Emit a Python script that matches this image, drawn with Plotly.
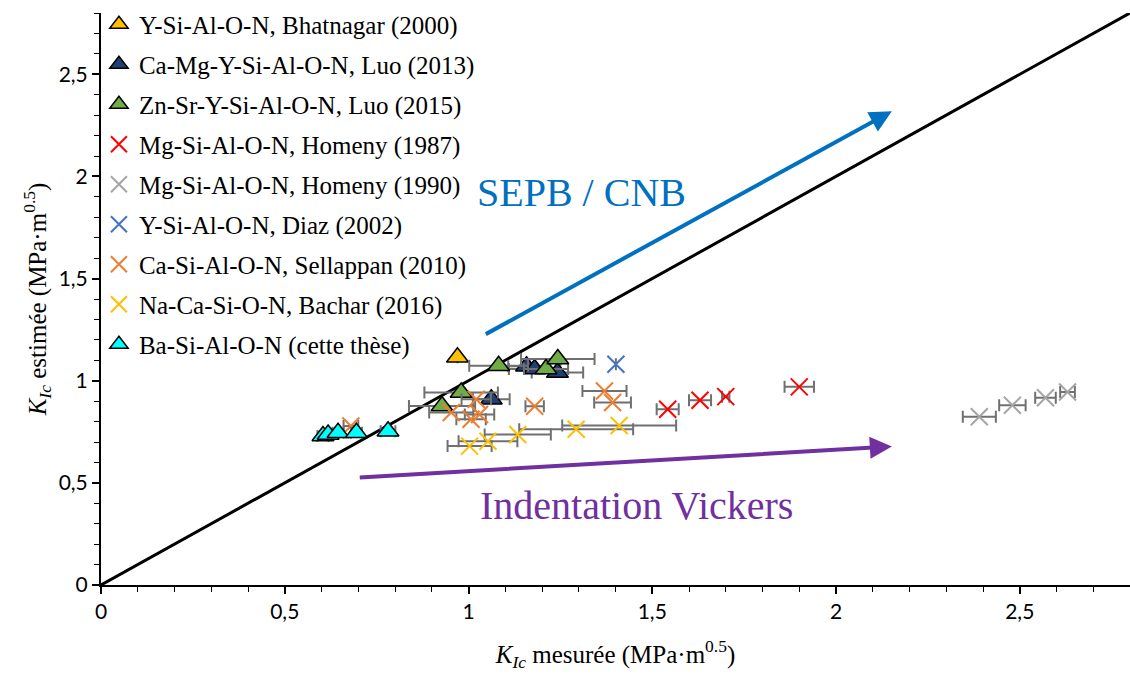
import plotly.graph_objects as go

# ---------------- data ----------------
bhat_x = [0.97]; bhat_y = [1.115]; bhat_e = [0.0]
luo13_x = [1.062, 1.158, 1.18, 1.242]; luo13_y = [0.909, 1.071, 1.057, 1.04]; luo13_e = [0.05, 0.05, 0.07, 0.07]
luo15_x = [0.928, 0.98, 1.082, 1.211, 1.243]; luo15_y = [0.876, 0.942, 1.073, 1.057, 1.106]; luo15_e = [0.09, 0.1, 0.08, 0.06, 0.1]
hom87_x = [1.542, 1.63, 1.70, 1.90]; hom87_y = [0.86, 0.904, 0.922, 0.97]; hom87_e = [0.03, 0.03, 0.01, 0.04]
hom90_x = [2.39, 2.48, 2.57, 2.63]; hom90_y = [0.824, 0.88, 0.917, 0.945]; hom90_e = [0.045, 0.036, 0.028, 0.02]
diaz_x = [1.401]; diaz_y = [1.081]; diaz_e = [0.0]
sell_x = [0.68, 0.953, 1.021, 1.007, 1.03, 1.18, 1.37, 1.392]; sell_y = [0.778, 0.844, 0.909, 0.811, 0.835, 0.875, 0.95, 0.893]
sell_e = [0.02, 0.06, 0.04, 0.04, 0.04, 0.025, 0.06, 0.05]
bach_x = [1.003, 1.053, 1.134, 1.293, 1.41]; bach_y = [0.68, 0.704, 0.737, 0.762, 0.781]; bach_e = [0.06, 0.08, 0.09, 0.155, 0.155]
ba_x = [0.604, 0.618, 0.645, 0.695, 0.781]; ba_y = [0.729, 0.737, 0.745, 0.745, 0.753]; ba_e = [0.015, 0.015, 0.015, 0.015, 0.02]
diag_x = [0, 2.8]; diag_y = [0, 2.8]

names = ["Y-Si-Al-O-N, Bhatnagar (2000)", "Ca-Mg-Y-Si-Al-O-N, Luo (2013)", "Zn-Sr-Y-Si-Al-O-N, Luo (2015)",
         "Mg-Si-Al-O-N, Homeny (1987)", "Mg-Si-Al-O-N, Homeny (1990)", "Y-Si-Al-O-N, Diaz (2002)",
         "Ca-Si-Al-O-N, Sellappan (2010)", "Na-Ca-Si-O-N, Bachar (2016)", "Ba-Si-Al-O-N (cette thèse)"]
tick_vals = [0, 0.5, 1, 1.5, 2, 2.5]
tick_text = ["0", "0,5", "1", "1,5", "2", "2,5"]

sepb_arrow = dict(tail=(1.043, 1.224), tip=(2.152, 2.319))
vick_arrow = dict(tail=(0.70, 0.526), tip=(2.152, 0.678))

# ---------------- figure ----------------
SERIF = "Liberation Serif, Times New Roman, serif"
ERR = "#707070"

fig = go.Figure()
fig.add_trace(go.Scatter(x=diag_x, y=diag_y, mode="lines", line=dict(color="black", width=3),
                         showlegend=False, hoverinfo="skip"))

def tri(x, y, e, name, color):
    fig.add_trace(go.Scatter(
        x=x, y=y, mode="markers", name=name, legendgroup=name,
        marker=dict(symbol="triangle-up", size=19, color=color, line=dict(color="black", width=1.5)),
        error_x=dict(type="data", array=e, color=ERR, thickness=2, width=6, visible=True)))

def cross(x, y, e, name, color):
    fig.add_trace(go.Scatter(
        x=x, y=y, mode="markers", name=name, legendgroup=name,
        marker=dict(symbol="x-thin-open", size=17, color=color, line=dict(color=color, width=2)),
        error_x=dict(type="data", array=e, color=ERR, thickness=2, width=6, visible=True)))

tri(bhat_x, bhat_y, bhat_e, names[0], "#FFC000")
tri(luo13_x, luo13_y, luo13_e, names[1], "#203F73")
tri(luo15_x, luo15_y, luo15_e, names[2], "#70AD47")
cross(hom87_x, hom87_y, hom87_e, names[3], "#FF0000")
cross(hom90_x, hom90_y, hom90_e, names[4], "#A5A5A5")
cross(diaz_x, diaz_y, diaz_e, names[5], "#4472C4")
cross(sell_x, sell_y, sell_e, names[6], "#ED7D31")
cross(bach_x, bach_y, bach_e, names[7], "#FFC000")
tri(ba_x, ba_y, ba_e, names[8], "#00FFFF")

for arr, col in ((sepb_arrow, "#0070C0"), (vick_arrow, "#7030A0")):
    fig.add_annotation(x=arr["tip"][0], y=arr["tip"][1], ax=arr["tail"][0], ay=arr["tail"][1],
                       xref="x", yref="y", axref="x", ayref="y", text="", showarrow=True,
                       arrowhead=2, arrowsize=1.1, arrowwidth=4, arrowcolor=col)

fig.add_annotation(x=1.307, y=1.92, xref="x", yref="y", text="SEPB / CNB", showarrow=False,
                   font=dict(family=SERIF, size=40, color="#0070C0"))
fig.add_annotation(x=1.457, y=0.39, xref="x", yref="y", text="Indentation Vickers", showarrow=False,
                   font=dict(family=SERIF, size=40, color="#7030A0"))

axis_common = dict(range=[0, 2.8], showgrid=False, zeroline=False, showline=True, linecolor="black",
                   linewidth=2, ticks="outside", ticklen=7, tickwidth=1.5, tickcolor="black",
                   tickvals=tick_vals, ticktext=tick_text, automargin=False,
                   tickfont=dict(family="Lato, Liberation Sans, sans-serif", size=21, color="black"),
                   minor=dict(dtick=0.1, tick0=0, ticks="outside", ticklen=5, tickwidth=1.2, tickcolor="black"))

fig.update_layout(
    width=1130, height=676,
    margin=dict(l=101, r=0, t=13, b=91, autoexpand=False),
    paper_bgcolor="white", plot_bgcolor="white",
    xaxis=dict(**axis_common,
               title=dict(text="<i>K</i><sub><i>Ic</i></sub> mesurée (MPa·m<sup>0.5</sup>)",
                          font=dict(family=SERIF, size=25, color="black"), standoff=23)),
    yaxis=dict(**axis_common,
               title=dict(text="<i>K</i><sub><i>Ic</i></sub> estimée (MPa·m<sup>0.5</sup>)",
                          font=dict(family=SERIF, size=25, color="black"), standoff=5)),
    legend=dict(x=-0.002, y=1.02, xanchor="left", yanchor="top", bgcolor="rgba(0,0,0,0)",
                font=dict(family=SERIF, size=25, color="black"), tracegroupgap=4.5,
                itemwidth=30, maxheight=640),
    showlegend=True,
)

fig.write_html("out.html", config={"displayModeBar": False},
               post_script="document.body.style.margin='0';document.body.style.overflow='hidden';")
